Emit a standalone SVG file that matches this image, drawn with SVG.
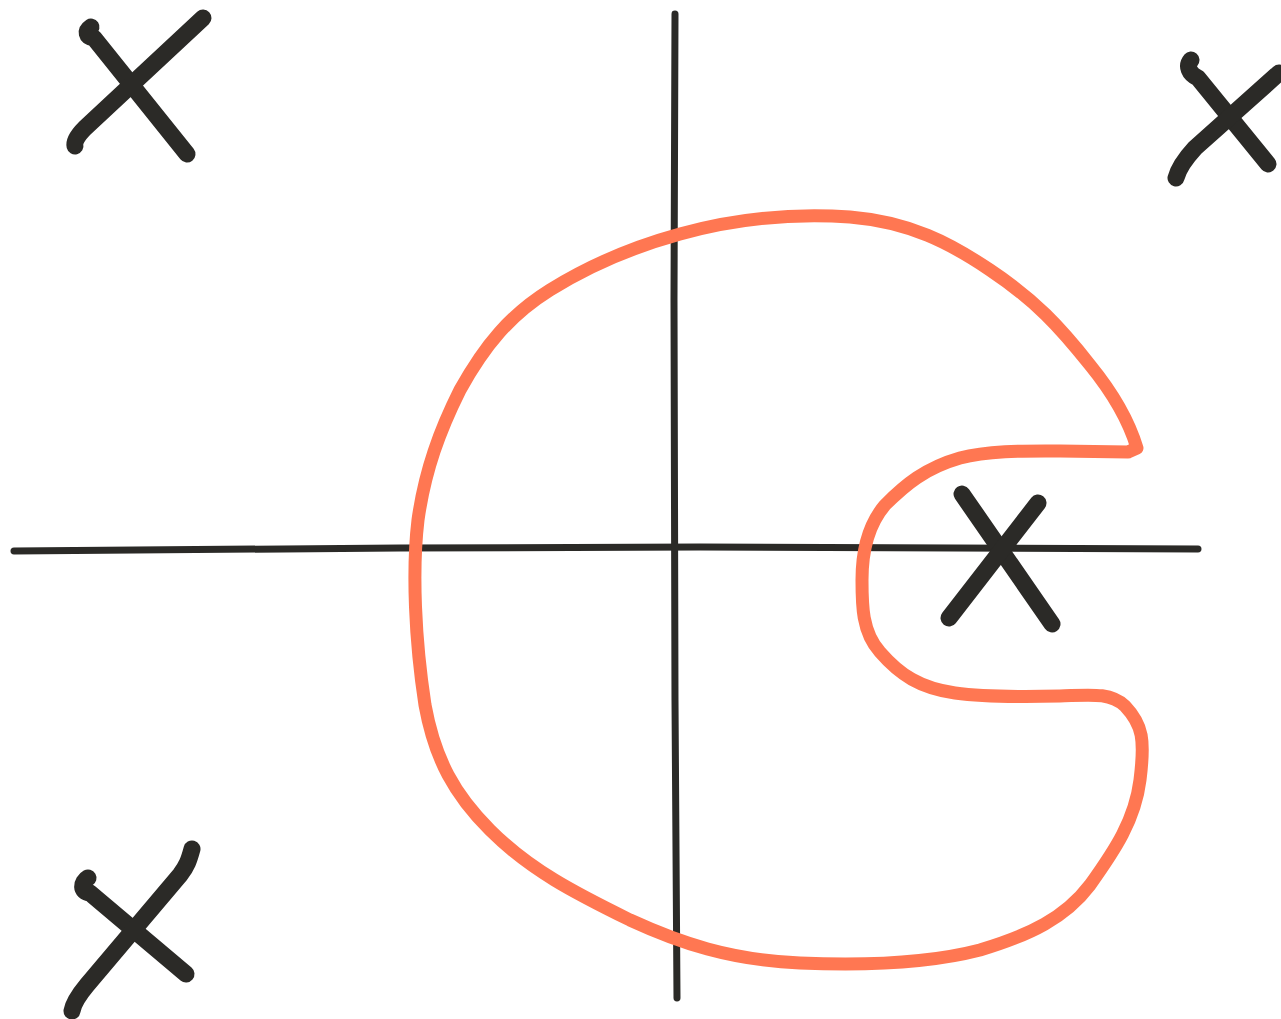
<svg xmlns="http://www.w3.org/2000/svg" width="1281" height="1019" viewBox="0 0 1281 1019">
<style>
.ink{fill:none;stroke:#2b2a27;stroke-linecap:round;stroke-linejoin:round}
.x{stroke-width:17}
.ax{stroke-width:7}
.curve{fill:none;stroke:#ff7752;stroke-width:13;stroke-linecap:round;stroke-linejoin:round}
</style>
<rect width="1281" height="1019" fill="#ffffff"/>
<g id="axes">
<path class="ink ax" d="M14,551 L400,548 L700,547 L1198,549"/>
<path class="ink ax" d="M675,14 L674,300 L675,700 L677,998"/>
</g>
<g id="curve">
<path class="curve" d="M1128,452 L1137,448 C1128,418 1112,392 1090,365 C1060,327 1035,300 990,270 C950,243 910,222 850,217 C790,213 730,220 680,234 C640,245 595,262 550,290 C510,315 485,345 460,390 C440,430 425,470 418,520 C412,570 415,640 425,705 C435,760 455,795 490,830 C530,870 575,893 630,920 C680,943 730,960 800,963 C870,966 930,963 980,950 C1030,935 1065,918 1090,885 C1115,850 1135,820 1140,780 C1145,740 1143,725 1125,706 C1110,692 1090,695 1060,696 C1020,697 985,697 955,693 C920,688 900,675 880,652 C862,632 862,605 862,580 C862,550 868,525 885,505 C905,485 925,468 960,458 C990,450 1030,451 1060,451 L1128,452"/>
</g>
<g id="x-top-left">
<path class="ink x" d="M91,27 C85,31 86,37 94,38 L187,154"/>
<path class="ink x" d="M203,18 L85,128 C77,136 74,142 75,146"/>
</g>
<g id="x-top-right">
<path class="ink x" d="M1191,60 C1186,66 1189,74 1198,78 L1268,164"/>
<path class="ink x" d="M1279,73 L1195,148 C1184,160 1178,170 1176,178"/>
</g>
<g id="x-bottom-left">
<path class="ink x" d="M88,878 C81,882 80,892 90,893 L186,974"/>
<path class="ink x" d="M192,849 C189,860 187,866 180,875 L87,985 C77,997 73,1005 72,1011"/>
</g>
<g id="x-center-right">
<path class="ink x" d="M962,494 L1052,624"/>
<path class="ink x" d="M1038,503 L949,618"/>
</g>
</svg>
